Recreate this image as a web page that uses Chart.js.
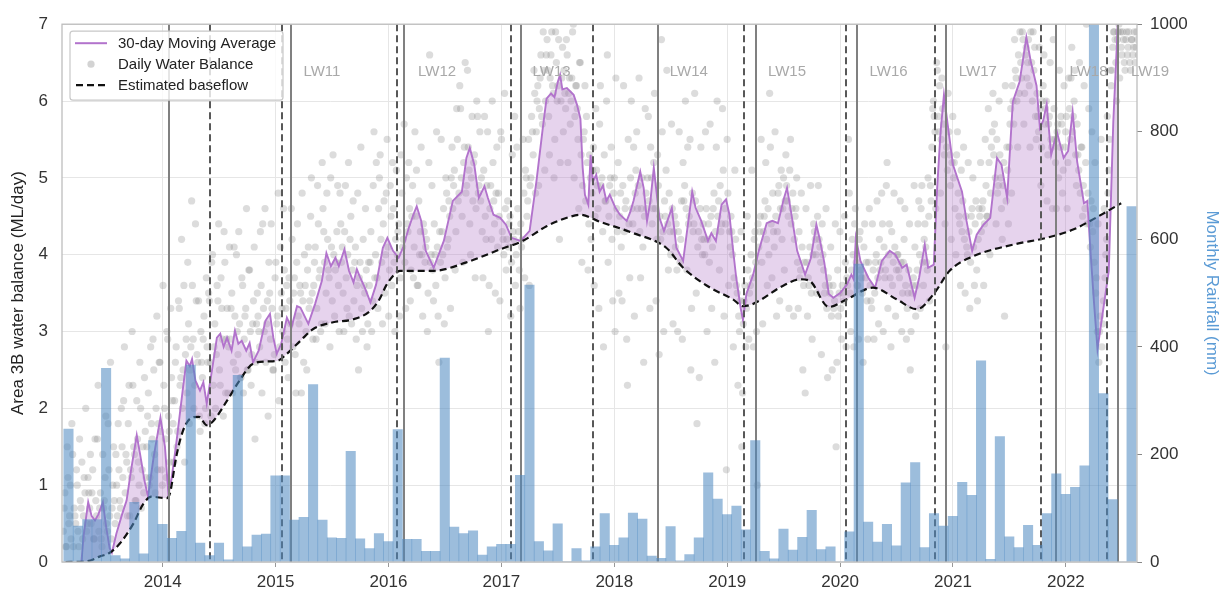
<!DOCTYPE html>
<html>
<head>
<meta charset="utf-8">
<style>
  html, body { margin: 0; padding: 0; background: #fff; }
  #wrap { width: 1225px; height: 592px; position: relative; }
</style>
<script src="https://cdn.jsdelivr.net/npm/chart.js@4.4.1/dist/chart.umd.min.js"></script>
</head>
<body>
<div id="wrap"><canvas id="c" width="1225" height="592"></canvas></div>
<script>
// ---- Data -------------------------------------------------------------

// Monthly rainfall (mm), first bar is February 2013, one value per month
const rainfallStart = [2013, 2];
const monthlyRainfall = [
  247, 67, 79, 79, 360, 12, 6, 111, 15, 226, 70,
  44, 57, 366, 35, 12, 35, 4, 347, 28, 50, 52, 160,
  160, 78, 83, 330, 78, 45, 44, 206, 43, 25, 53, 38,
  246, 42, 42, 20, 20, 379, 65, 53, 58, 13, 28, 33,
  33, 161, 515, 38, 21, 71, 1, 25, 2, 28, 90, 31,
  45, 91, 80, 11, 7, 66, 2, 14, 45, 166, 117, 88,
  104, 60, 226, 20, 6, 61, 22, 46, 96, 23, 28, 0,
  56, 554, 74, 37, 70, 30, 147, 185, 27, 90, 67, 85,
  148, 124, 374, 5, 233, 47, 27, 68, 31, 90, 164, 126,
  139, 179, 1000, 313, 116, 0, 661
];

// 30-day moving average of the daily water balance (decimal year, ML/day)
const movingAverage = [
  [2013.28,0.0],[2013.30,0.35],[2013.34,0.78],[2013.37,0.6],[2013.40,0.54],[2013.43,0.62],
  [2013.47,0.78],[2013.50,0.45],[2013.53,0.18],[2013.55,0.12],[2013.59,0.37],[2013.64,0.62],
  [2013.68,0.8],[2013.72,1.2],[2013.77,1.65],[2013.80,1.4],[2013.84,1.05],[2013.87,0.85],
  [2013.92,1.37],[2013.98,1.88],[2014.02,1.5],[2014.05,0.89],[2014.08,1.1],[2014.12,1.54],
  [2014.18,2.27],[2014.21,2.62],[2014.24,2.55],[2014.26,2.64],[2014.29,2.36],[2014.33,2.23],
  [2014.36,2.34],[2014.39,2.06],[2014.44,2.53],[2014.48,2.92],[2014.51,2.97],[2014.54,2.8],
  [2014.57,2.92],[2014.61,2.75],[2014.64,3.01],[2014.67,2.84],[2014.70,2.88],[2014.74,2.75],
  [2014.77,2.85],[2014.80,2.6],[2014.85,2.75],[2014.91,3.14],[2014.95,3.23],[2014.98,2.92],
  [2015.01,2.71],[2015.05,2.84],[2015.10,3.18],[2015.14,3.05],[2015.19,3.33],[2015.22,3.31],
  [2015.29,3.1],[2015.35,3.36],[2015.41,3.66],[2015.45,4.02],[2015.49,3.85],[2015.53,3.96],
  [2015.56,3.85],[2015.61,4.07],[2015.65,3.79],[2015.69,3.64],[2015.72,3.81],[2015.75,3.7],
  [2015.79,3.57],[2015.84,3.38],[2015.89,3.61],[2015.95,4.09],[2015.99,4.22],[2016.04,4.05],
  [2016.09,3.96],[2016.13,4.1],[2016.18,4.35],[2016.22,4.52],[2016.25,4.63],[2016.29,4.44],
  [2016.33,4.05],[2016.40,3.83],[2016.49,4.18],[2016.57,4.7],[2016.65,4.82],[2016.69,5.26],
  [2016.72,5.39],[2016.76,5.17],[2016.80,4.74],[2016.85,4.89],[2016.88,4.74],[2016.93,4.52],
  [2016.99,4.48],[2017.04,4.39],[2017.09,4.22],[2017.17,4.18],[2017.25,4.31],[2017.31,4.95],
  [2017.37,5.69],[2017.40,6.03],[2017.44,6.1],[2017.47,6.05],[2017.50,6.25],[2017.52,6.34],
  [2017.54,6.15],[2017.58,6.17],[2017.64,6.08],[2017.67,5.95],[2017.70,5.77],[2017.72,5.13],
  [2017.74,4.78],[2017.77,4.65],[2017.79,5.3],[2017.81,4.95],[2017.84,5.04],[2017.87,4.82],
  [2017.90,4.9],[2017.93,4.7],[2017.96,4.78],[2018.01,4.61],[2018.05,4.52],[2018.11,4.44],
  [2018.14,4.55],[2018.17,4.7],[2018.23,5.08],[2018.26,4.87],[2018.29,4.44],[2018.32,4.7],
  [2018.35,5.13],[2018.37,4.87],[2018.40,4.48],[2018.44,4.31],[2018.51,4.61],[2018.55,4.09],
  [2018.61,3.92],[2018.69,4.82],[2018.72,4.61],[2018.77,4.44],[2018.83,4.18],[2018.86,4.28],
  [2018.90,4.18],[2018.95,4.65],[2018.99,4.72],[2019.02,4.52],[2019.05,4.09],[2019.08,3.7],
  [2019.12,3.3],[2019.14,3.15],[2019.17,3.49],[2019.23,3.74],[2019.28,4.05],[2019.35,4.41],
  [2019.40,4.44],[2019.45,4.41],[2019.50,4.72],[2019.53,4.87],[2019.56,4.61],[2019.62,4.05],
  [2019.69,3.74],[2019.74,3.95],[2019.79,4.39],[2019.82,4.2],[2019.86,3.9],[2019.90,3.49],
  [2019.94,3.44],[2020.00,3.5],[2020.06,3.61],[2020.10,3.74],[2020.12,3.68],[2020.14,4.22],
  [2020.18,3.92],[2020.25,3.7],[2020.31,3.57],[2020.37,3.92],[2020.44,4.05],[2020.49,4.0],
  [2020.55,3.83],[2020.59,3.87],[2020.66,3.44],[2020.70,3.7],[2020.75,4.13],[2020.78,3.83],
  [2020.83,3.87],[2020.86,4.87],[2020.89,5.6],[2020.92,6.08],[2020.95,5.73],[2021.00,5.17],
  [2021.08,4.82],[2021.12,4.44],[2021.17,4.05],[2021.21,4.26],[2021.27,4.39],[2021.33,4.48],
  [2021.39,5.26],[2021.43,5.17],[2021.48,4.74],[2021.53,5.99],[2021.59,6.25],[2021.65,6.83],
  [2021.69,6.51],[2021.74,6.2],[2021.77,5.65],[2021.80,5.75],[2021.83,5.96],[2021.87,5.3],
  [2021.92,5.6],[2021.98,5.26],[2022.02,5.35],[2022.06,5.86],[2022.10,5.21],[2022.16,4.67],
  [2022.19,4.7],[2022.22,4.0],[2022.25,3.36],[2022.28,2.77],[2022.38,3.79],[2022.42,5.73],
  [2022.45,6.68],[2022.47,7.4]
];

// Estimated baseflow (decimal year, ML/day)
const estimatedBaseflow = [
  [2013.14,0.0],[2013.33,0.01],[2013.44,0.07],[2013.53,0.12],[2013.62,0.24],[2013.74,0.5],
  [2013.83,0.76],[2013.90,0.85],[2014.035,0.83],[2014.065,0.9],[2014.12,1.37],[2014.18,1.71],
  [2014.26,1.88],[2014.32,1.89],[2014.39,1.78],[2014.45,1.84],[2014.57,2.1],[2014.68,2.36],
  [2014.80,2.58],[2014.92,2.61],[2015.02,2.62],[2015.10,2.71],[2015.22,2.88],[2015.33,3.03],
  [2015.51,3.12],[2015.69,3.16],[2015.84,3.27],[2015.92,3.42],[2015.98,3.6],[2016.05,3.74],
  [2016.10,3.79],[2016.28,3.79],[2016.40,3.79],[2016.69,3.9],[2016.99,4.07],[2017.19,4.18],
  [2017.40,4.37],[2017.58,4.48],[2017.70,4.52],[2017.87,4.43],[2018.17,4.28],[2018.46,4.09],
  [2018.61,3.83],[2018.85,3.57],[2019.05,3.42],[2019.14,3.33],[2019.23,3.36],[2019.50,3.6],
  [2019.65,3.68],[2019.73,3.66],[2019.90,3.32],[2020.06,3.42],[2020.29,3.57],[2020.50,3.42],
  [2020.68,3.29],[2020.83,3.49],[2020.97,3.79],[2021.18,3.98],[2021.53,4.13],[2021.83,4.22],
  [2022.07,4.33],[2022.24,4.46],[2022.49,4.67]
];

// Daily water balance (ML/day): two interleaved 5-day sample runs,
// the second offset 2.5 days from the first
const dailyStart = 2013.12;
const dailyStepDays = 5;
const dailyBalanceA = [
  0.4,0.9,0.2,1.1,0.6,0.3,1.4,0.7,0.5,1.0,0.2,0.8,1.3,0.6,0.9,0.4,1.1,0.7,
  0.5,1.2,0.3,0.8,1.6,0.4,0.9,0.2,0.7,1.1,0.5,1.8,0.6,0.3,1.0,0.8,1.4,0.6,
  1.2,0.7,1.5,2.1,0.9,1.3,1.8,0.6,1.1,2.3,1.4,0.8,1.6,1.0,2.0,1.2,0.9,1.7,
  1.5,2.2,1.1,1.8,2.9,1.4,2.0,1.2,2.6,1.7,1.0,2.3,1.6,3.0,1.9,1.3,2.4,1.8,
  2.1,2.8,1.7,3.3,2.4,2.0,3.6,2.7,2.2,3.1,2.5,4.7,2.9,2.3,3.4,2.6,1.9,3.0,
  2.4,3.2,2.0,2.8,3.5,2.6,3.9,2.3,3.1,2.7,3.4,2.5,3.7,2.9,4.3,2.2,3.3,2.8,
  2.9,3.5,2.6,3.2,4.0,2.7,3.1,2.4,3.6,2.9,3.3,2.5,3.8,3.0,2.7,3.4,1.6,3.1,
  3.2,2.8,3.6,4.4,3.0,2.6,3.4,3.9,2.9,3.3,2.5,3.7,3.1,4.8,2.8,3.5,3.0,3.8,
  3.3,2.9,3.7,3.1,4.2,3.5,2.7,3.9,3.2,3.6,2.2,3.4,4.0,3.0,3.8,3.3,4.5,3.5,
  3.6,4.1,3.3,4.4,3.8,3.1,4.6,3.9,3.5,4.2,3.7,5.0,3.4,4.0,3.8,4.3,3.6,4.8,
  3.9,3.5,4.3,3.7,4.0,3.2,4.5,3.8,3.4,4.1,3.6,2.5,3.9,3.3,4.2,3.5,3.8,3.1,
  3.6,4.3,3.4,5.6,4.0,3.7,4.6,5.3,3.9,4.4,3.5,4.8,4.1,3.8,4.5,5.2,3.9,4.2,
  4.0,4.4,3.7,4.8,4.2,3.9,5.0,4.3,4.6,3.8,4.9,4.1,4.5,3.6,4.7,4.3,4.0,4.4,
  3.9,4.2,3.5,6.6,4.0,3.8,4.4,3.6,4.1,2.6,3.9,4.3,4.6,3.7,4.8,4.2,4.5,5.0,
  4.6,5.1,4.3,5.5,4.8,5.9,4.5,5.2,6.5,4.9,5.4,4.4,5.0,4.7,5.3,4.6,5.8,4.9,
  4.7,4.3,5.1,4.5,4.9,3.0,4.6,4.2,5.2,4.4,4.8,4.1,4.5,5.6,4.3,4.0,4.6,4.2,
  4.1,4.5,3.9,4.3,5.8,4.0,4.6,3.8,4.4,4.2,4.8,5.1,4.5,5.5,4.9,5.8,5.3,6.1,
  5.6,6.2,5.9,6.6,5.7,6.4,6.0,6.8,5.8,6.3,6.9,6.1,5.5,6.5,6.2,4.2,6.0,6.7,
  6.4,5.9,6.6,6.1,5.7,6.3,7.0,5.8,6.2,5.5,6.5,5.3,4.9,5.6,4.7,5.2,4.4,5.0,
  4.8,5.4,4.5,5.1,4.6,5.7,4.9,4.3,5.3,4.7,6.6,4.5,5.0,4.2,4.8,3.0,4.6,5.2,
  4.5,4.1,4.9,4.3,4.7,2.3,4.4,5.0,4.6,5.4,4.8,5.6,4.9,4.3,4.6,4.1,4.5,4.8,
  5.0,4.7,5.4,4.4,5.2,4.6,4.2,4.9,4.5,6.8,4.3,4.7,5.1,4.4,4.8,4.0,4.6,4.3,
  4.1,3.8,4.3,3.9,4.7,5.2,4.9,4.6,5.4,4.5,2.5,4.8,4.4,4.7,1.8,4.3,4.6,4.2,
  4.4,4.0,4.6,4.2,3.9,4.5,4.1,4.8,4.3,6.0,4.7,4.9,4.4,5.1,4.6,1.2,4.8,4.3,
  4.5,4.0,3.7,4.2,3.5,3.2,3.4,1.5,3.1,3.6,3.3,3.8,3.5,4.0,3.7,4.2,3.9,1.0,
  4.1,4.5,3.9,4.3,4.7,4.2,4.6,6.1,4.4,4.8,4.1,4.5,4.3,4.9,4.6,4.2,5.0,4.7,
  4.9,4.5,5.1,4.4,4.8,4.2,4.6,3.9,4.3,3.8,4.1,3.6,2.2,3.9,3.7,4.1,3.5,4.0,
  4.3,4.0,4.5,4.2,3.9,4.4,3.8,3.6,3.3,3.7,3.5,3.2,3.6,3.4,1.5,3.8,3.5,3.3,
  3.6,3.4,3.9,3.7,5.5,3.5,3.8,4.0,4.4,3.9,3.6,4.2,3.8,3.5,4.1,3.7,3.4,3.9,
  3.6,3.3,3.8,3.5,4.0,3.7,4.2,3.9,4.4,4.1,3.8,5.2,4.0,3.7,4.3,3.9,4.1,3.8,
  4.0,3.7,3.9,3.5,4.2,3.6,3.3,3.8,2.5,3.5,3.7,4.1,3.6,4.4,4.0,4.6,3.9,4.2,
  4.1,3.8,4.5,4.9,5.4,6.0,5.6,6.5,5.8,6.2,5.5,5.9,5.3,2.8,5.1,5.6,4.9,5.2,
  5.0,4.6,5.3,4.8,4.4,5.1,4.7,4.2,4.5,4.0,4.3,3.9,4.6,4.1,4.4,3.8,4.2,4.5,
  4.3,4.7,4.4,4.9,4.5,5.2,4.8,5.6,5.3,5.0,5.5,4.9,5.3,4.6,4.9,3.2,4.7,5.1,
  5.4,5.9,6.2,5.7,6.4,6.0,6.6,6.9,6.3,6.8,6.1,6.7,6.5,6.2,6.9,6.0,6.4,5.8,
  6.1,5.6,5.9,5.4,6.2,5.7,6.0,5.3,5.8,5.5,4.6,5.9,5.2,5.6,5.0,5.4,5.7,5.1,
  5.4,5.8,5.2,5.9,6.3,5.6,6.0,5.3,5.7,5.1,4.8,5.4,4.9,4.6,7.0,4.8,4.4,4.7,
  4.3,3.9,3.5,3.0,2.6,3.2,2.8,3.4,3.7,4.2,4.8,5.5,6.2,6.7,6.9,6.5,6.8,7.0,
  6.9,6.6,6.8,6.4,6.9,6.7,6.5,6.8,6.6,6.9,6.7,6.8
];
const dailyBalanceB = [
  0.7,0.2,1.5,0.5,1.0,1.8,0.2,0.6,1.2,0.4,1.6,0.7,0.3,1.1,2.0,0.5,0.9,1.4,
  0.9,0.3,1.6,0.6,2.3,0.7,0.3,1.4,0.8,1.9,0.4,1.2,2.6,0.7,1.5,0.5,1.0,1.8,
  0.8,2.0,1.1,2.8,1.4,0.6,2.3,1.2,3.0,1.5,0.8,2.1,1.3,2.6,0.7,1.5,2.4,1.1,
  1.9,1.0,2.8,1.6,2.5,0.9,3.2,1.8,2.6,1.2,3.6,2.0,1.1,2.9,1.7,3.3,2.1,1.3,
  2.6,1.5,3.4,2.3,4.2,2.5,1.3,2.9,3.9,1.8,2.8,3.6,2.0,4.4,2.7,3.4,1.7,2.6,
  2.9,1.8,3.7,2.6,3.4,1.9,4.0,2.8,2.0,3.6,4.4,2.3,3.3,1.9,3.9,2.9,2.2,4.1,
  3.3,2.2,4.1,2.5,3.0,4.3,2.4,3.7,2.2,3.2,4.6,2.5,3.8,2.3,3.1,4.1,2.6,3.5,
  3.0,4.3,2.2,3.3,4.6,3.1,1.9,3.5,4.4,2.5,2.7,3.9,3.2,2.1,4.1,3.3,4.6,2.6,
  3.6,2.4,3.4,4.6,2.8,3.7,2.2,4.4,3.1,3.5,4.8,2.6,3.6,2.5,4.1,3.4,5.0,2.9,
  3.9,2.9,4.9,3.7,3.0,5.2,4.3,3.1,4.8,3.8,2.8,4.1,5.3,3.2,3.9,4.9,3.0,4.4,
  4.1,3.0,4.9,3.3,5.2,4.2,3.1,4.7,3.9,2.9,4.8,3.7,5.4,3.0,3.6,4.6,2.8,3.9,
  3.9,3.0,4.9,3.7,5.2,3.3,5.0,4.2,3.1,4.7,4.0,5.5,3.2,4.9,3.6,4.6,3.0,5.1,
  4.3,3.2,5.3,4.1,5.7,3.3,4.4,5.2,3.4,4.5,3.7,5.6,5.1,3.6,4.0,5.4,3.2,4.3,
  4.1,3.0,5.2,3.9,4.9,3.4,4.0,5.6,3.2,4.3,5.5,4.0,3.1,5.0,4.1,4.7,3.3,5.4,
  4.9,3.8,5.9,4.7,6.2,5.0,3.9,5.4,4.8,6.4,5.1,4.0,5.8,5.2,3.7,6.0,4.8,5.6,
  5.0,3.7,5.8,4.2,5.6,3.6,4.9,6.0,4.7,3.5,5.4,4.8,3.4,5.5,4.2,6.1,3.8,4.7,
  4.4,3.2,5.3,4.2,3.6,5.4,4.3,3.3,4.1,5.5,3.7,5.0,4.7,3.6,5.0,5.6,6.4,4.8,
  6.0,4.9,6.3,5.8,6.9,5.1,6.6,6.4,5.3,6.6,6.2,5.0,6.9,6.0,6.8,5.2,6.3,5.6,
  6.1,6.8,5.2,6.3,6.0,6.9,5.0,6.2,5.9,4.6,6.5,3.9,5.5,6.2,5.8,3.8,5.3,4.2,
  5.1,3.6,5.9,4.9,3.3,6.2,5.0,2.8,4.7,6.0,3.9,4.9,5.4,3.4,5.0,6.3,4.3,3.5,
  4.8,3.4,6.2,4.6,2.9,5.5,3.7,6.0,4.4,3.2,5.1,4.6,6.3,3.7,5.0,2.6,5.9,4.6,
  5.8,3.3,5.0,4.6,6.1,3.4,5.3,2.7,4.2,5.6,3.0,4.5,6.4,3.8,4.3,5.7,3.1,4.5,
  4.4,3.0,5.6,4.2,2.9,4.7,6.0,3.8,4.4,5.5,3.3,4.3,6.1,3.5,4.1,2.4,5.4,4.0,
  4.2,5.6,3.0,4.4,5.7,3.3,4.6,2.6,5.4,4.5,3.8,4.3,5.9,3.2,4.4,5.5,3.6,4.1,
  4.3,2.8,5.1,3.6,2.3,3.0,4.3,2.2,3.4,2.8,4.5,2.9,3.6,5.1,2.8,4.3,3.0,4.4,
  4.3,5.5,3.1,4.5,5.2,3.6,4.0,5.4,3.7,4.3,5.6,3.2,4.8,3.4,5.1,4.6,3.8,5.3,
  4.7,3.3,5.5,4.6,3.2,4.5,5.0,3.3,3.7,4.8,2.5,3.9,4.6,3.2,3.6,4.9,2.9,4.4,
  4.2,3.5,4.9,4.1,2.7,4.0,3.5,4.6,2.4,3.6,4.1,2.5,3.3,4.4,2.6,3.2,4.3,2.9,
  3.5,4.5,2.8,3.6,4.8,3.0,4.2,2.8,4.6,3.6,2.9,4.3,3.7,2.6,4.4,3.9,2.9,4.6,
  3.4,4.4,2.9,3.9,4.7,3.1,3.8,4.8,3.0,3.7,4.9,3.3,4.4,2.8,3.6,4.8,3.2,4.0,
  3.8,4.7,3.0,3.9,4.6,2.9,3.5,4.4,3.0,3.6,4.9,3.2,3.8,4.7,3.3,4.9,3.6,4.4,
  3.9,5.0,3.4,4.7,5.9,5.8,4.6,6.4,5.6,4.8,6.3,5.7,4.4,5.4,6.1,5.3,4.2,5.8,
  5.2,4.0,5.6,4.5,3.6,4.3,5.4,3.5,4.1,5.2,3.3,4.5,5.0,3.6,4.7,3.4,4.6,5.2,
  4.6,3.6,5.5,4.5,5.9,4.0,5.4,6.1,5.7,4.4,4.8,6.0,5.0,4.2,5.2,6.2,5.4,4.4,
  5.7,4.8,6.0,6.8,6.3,5.4,6.1,6.5,6.9,5.7,6.6,6.3,6.8,5.4,6.5,6.9,6.7,5.5,
  5.8,6.7,4.9,6.0,6.6,5.9,4.7,5.7,6.5,5.4,6.8,5.5,4.6,5.7,6.4,5.8,4.8,6.2,
  5.6,4.6,6.3,5.5,6.7,5.8,6.4,4.9,5.3,6.5,5.4,4.5,6.2,5.2,4.4,5.9,4.1,5.6,
  4.6,5.2,3.7,4.4,3.0,5.5,3.1,4.6,4.0,5.8,5.1,6.4,6.4,6.9,6.8,6.0,6.9,6.3,
  6.7,6.9,6.5,6.8,6.6,6.9,6.4,6.8,6.7,6.5,6.9,6.6
];

// Longwall panel start (solid) and finish (dashed) dates, decimal years
const longwallStarts = [2014.056, 2015.134, 2016.140, 2017.173, 2018.384, 2019.255, 2020.147, 2020.938, 2021.912, 2022.459];
const longwallEnds   = [2014.419, 2015.054, 2016.073, 2017.085, 2017.814, 2019.151, 2020.052, 2020.841, 2021.777, 2022.364];

// Panel names and where they are written
const panelNames = ['LW11', 'LW12', 'LW13', 'LW14', 'LW15', 'LW16', 'LW17', 'LW18', 'LW19'];
const panelNameYears = [2015.41, 2016.43, 2017.445, 2018.66, 2019.53, 2020.43, 2021.22, 2022.20, 2022.745];
const panelNameLevel = 6.38;

const yearTicks = [2014, 2015, 2016, 2017, 2018, 2019, 2020, 2021, 2022];
const xRange = [2013.108, 2022.630];

// ---- Build chart series ------------------------------------------------

const FONT = "'Liberation Sans', Arial, Helvetica, sans-serif";

const rainPoints = monthlyRainfall.map((v, i) => {
  const m = rainfallStart[1] - 1 + i;           // months since Jan of start year
  const yr = rainfallStart[0] + Math.floor(m / 12);
  const mon = (m % 12) + 1;
  return { x: yr + mon / 12 - 0.5 / 365.25, y: v }; // bar centred on month end
});
const maPoints = movingAverage.map(p => ({ x: p[0], y: p[1] }));
const basePoints = estimatedBaseflow.map(p => ({ x: p[0], y: p[1] }));
const stepYears = dailyStepDays / 365.25;
const dailyPoints = [
  ...dailyBalanceA.map((v, i) => ({ x: dailyStart + i * stepYears, y: v })),
  ...dailyBalanceB.map((v, i) => ({ x: dailyStart + (i + 0.5) * stepYears, y: v }))
];

const MA_COLOR = 'rgb(178,115,204)';

const decorations = {
  id: 'decorations',
  beforeDatasetDraw(chart, args) {
    if (args.meta.type !== 'bar') return;
    const { ctx, chartArea: a, scales: { x } } = chart;
    ctx.save();
    ctx.beginPath();
    ctx.rect(a.left, a.top, a.right - a.left, a.bottom - a.top);
    ctx.clip();
    ctx.lineWidth = 2;
    ctx.strokeStyle = '#808080';
    ctx.setLineDash([]);
    longwallStarts.forEach(v => {
      const px = Math.round(x.getPixelForValue(v));
      ctx.beginPath(); ctx.moveTo(px, a.top); ctx.lineTo(px, a.bottom); ctx.stroke();
    });
    ctx.strokeStyle = '#585858';
    ctx.setLineDash([7, 4]);
    longwallEnds.forEach(v => {
      const px = Math.round(x.getPixelForValue(v));
      ctx.beginPath(); ctx.moveTo(px, a.top); ctx.lineTo(px, a.bottom); ctx.stroke();
    });
    ctx.restore();
  },
  afterDraw(chart) {
    const { ctx, chartArea: a, scales: { x, y } } = chart;
    ctx.save();
    // plot frame
    ctx.strokeStyle = '#bdbdbd';
    ctx.lineWidth = 1.3;
    ctx.strokeRect(a.left, a.top, a.right - a.left, a.bottom - a.top);

    // panel names
    ctx.fillStyle = '#a9a9a9';
    ctx.font = '15px ' + FONT;
    ctx.textAlign = 'center';
    ctx.textBaseline = 'middle';
    panelNames.forEach((n, i) => {
      ctx.fillText(n, x.getPixelForValue(panelNameYears[i]), y.getPixelForValue(panelNameLevel));
    });

    // legend
    const lx = a.left + 8, ly = a.top + 7, lw = 213, lh = 69;
    ctx.fillStyle = 'rgba(255,255,255,0.8)';
    ctx.strokeStyle = '#c8c8c8';
    ctx.lineWidth = 1.2;
    ctx.beginPath();
    ctx.roundRect(lx, ly, lw, lh, 3);
    ctx.fill();
    ctx.stroke();

    const rows = [ly + 12, ly + 33, ly + 54];
    ctx.lineWidth = 2;
    ctx.strokeStyle = MA_COLOR;
    ctx.beginPath(); ctx.moveTo(lx + 5, rows[0]); ctx.lineTo(lx + 37, rows[0]); ctx.stroke();
    ctx.fillStyle = 'rgba(128,128,128,0.35)';
    ctx.beginPath(); ctx.arc(lx + 21, rows[1], 3.6, 0, Math.PI * 2); ctx.fill();
    ctx.strokeStyle = '#111';
    ctx.lineWidth = 2.2;
    ctx.setLineDash([7, 4]);
    ctx.beginPath(); ctx.moveTo(lx + 6, rows[2]); ctx.lineTo(lx + 37, rows[2]); ctx.stroke();
    ctx.setLineDash([]);

    ctx.fillStyle = '#222';
    ctx.font = '15px ' + FONT;
    ctx.textAlign = 'left';
    ctx.fillText('30-day Moving Average', lx + 48, rows[0] + 1);
    ctx.fillText('Daily Water Balance', lx + 48, rows[1] + 1);
    ctx.fillText('Estimated baseflow', lx + 48, rows[2] + 1);
    ctx.restore();
  }
};

new Chart(document.getElementById('c'), {
  data: {
    datasets: [
      {
        type: 'bar', label: 'Monthly Rainfall', data: rainPoints, yAxisID: 'yR',
        backgroundColor: 'rgba(78,138,192,0.56)', borderWidth: 0,
        barThickness: 'flex', categoryPercentage: 1, barPercentage: 1, order: 0
      },
      {
        type: 'line', label: 'Estimated baseflow', data: basePoints, yAxisID: 'y',
        borderColor: '#111', borderWidth: 2.2, borderDash: [7, 4], pointRadius: 0,
        cubicInterpolationMode: 'monotone', fill: false, order: 1
      },
      {
        type: 'line', label: '30-day Moving Average', data: maPoints, yAxisID: 'y',
        borderColor: MA_COLOR, borderWidth: 1.9, pointRadius: 0, tension: 0,
        fill: 1, backgroundColor: 'rgba(180,120,200,0.33)', order: 2
      },
      {
        type: 'scatter', label: 'Daily Water Balance', data: dailyPoints, yAxisID: 'y',
        pointRadius: 3.6, pointBackgroundColor: 'rgba(128,128,128,0.28)', pointBorderWidth: 0,
        order: 3
      }
    ]
  },
  options: {
    responsive: false,
    animation: false,
    devicePixelRatio: 1,
    layout: { padding: { top: 22, left: 0, right: 0, bottom: 0 } },
    plugins: { legend: { display: false }, tooltip: { enabled: false } },
    scales: {
      x: {
        type: 'linear', position: 'bottom', min: xRange[0], max: xRange[1], offset: false,
        afterBuildTicks: s => { s.ticks = yearTicks.map(v => ({ value: v })); },
        ticks: { callback: v => String(v), font: { size: 17, family: FONT }, color: '#333', padding: 5, maxRotation: 0, autoSkip: false },
        grid: { offset: false, color: '#e6e6e6', lineWidth: 1, drawTicks: true, tickLength: 5, tickColor: '#999' },
        border: { display: false },
        afterFit: s => { s.height = 30; }
      },
      y: {
        position: 'left', min: 0, max: 7,
        ticks: { stepSize: 1, callback: v => String(v), font: { size: 17, family: FONT }, color: '#333', padding: 14 },
        grid: { color: '#e6e6e6', lineWidth: 1, drawTicks: false },
        border: { display: false },
        title: { display: true, text: 'Area 3B water balance (ML/day)', font: { size: 17, family: FONT }, color: '#222', padding: { top: 8, bottom: 0 } },
        afterFit: s => { s.width = 62; }
      },
      yR: {
        position: 'right', min: 0, max: 1000,
        ticks: { stepSize: 200, callback: v => String(v), font: { size: 17, family: FONT }, color: '#333', padding: 8 },
        grid: { drawOnChartArea: false, drawTicks: true, tickLength: 5, tickColor: '#888' },
        border: { display: false },
        title: { display: true, text: 'Monthly Rainfall (mm)', font: { size: 17, family: FONT }, color: '#5b9bd5', padding: { top: 3, bottom: 0 } },
        afterFit: s => { s.width = 88; }
      }
    }
  },
  plugins: [decorations]
});
</script>
</body>
</html>
